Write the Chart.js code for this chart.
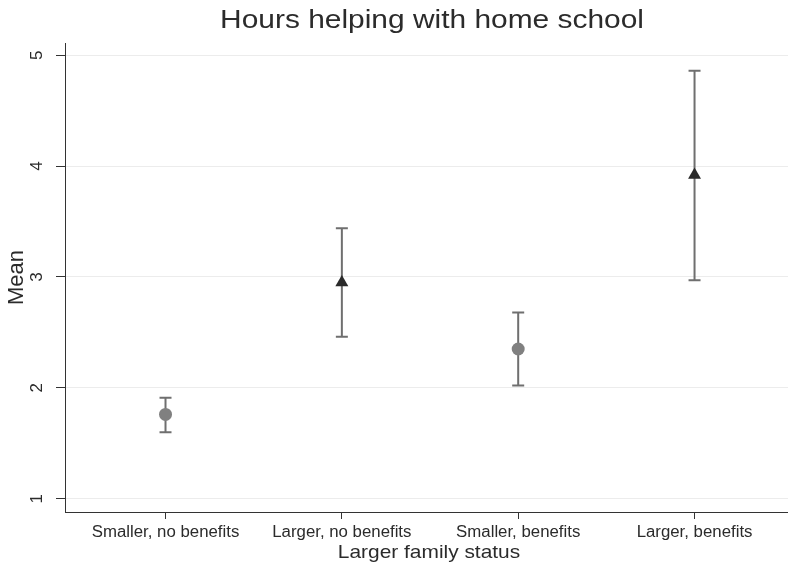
<!DOCTYPE html>
<html>
<head>
<meta charset="utf-8">
<title>Hours helping with home school</title>
<script src="https://cdn.jsdelivr.net/npm/chart.js@4/dist/chart.umd.min.js"></script>
<style>
  html, body { margin: 0; padding: 0; background: #fff; }
  #wrap { width: 788px; height: 564px; }
</style>
</head>
<body>
<div id="wrap"><canvas id="chart" width="788" height="564"></canvas></div>
<script>
// group means with their confidence intervals
const categories = ["Smaller, no benefits", "Larger, no benefits", "Smaller, benefits", "Larger, benefits"];
const means = [1.76, 2.95, 2.35, 3.92];
const lower = [1.60, 2.46, 2.02, 2.97];
const upper = [1.91, 3.44, 2.68, 4.86];
const largerFamily = [false, true, false, true];
const yTicks = [1, 2, 3, 4, 5];

const FONT = "'Liberation Sans', Arial, Helvetica, sans-serif";
const TEXT = "#2b2b2b";

// whiskers under the markers
const errorBars = {
  id: "errorBars",
  beforeDatasetsDraw(chart) {
    const { ctx, scales: { x, y } } = chart;
    ctx.save();
    ctx.strokeStyle = "#6f6f6f";
    ctx.lineWidth = 2;
    means.forEach((m, i) => {
      const px = x.getPixelForValue(i);
      const top = y.getPixelForValue(upper[i]);
      const bot = y.getPixelForValue(lower[i]);
      ctx.beginPath();
      ctx.moveTo(px, top); ctx.lineTo(px, bot);
      ctx.moveTo(px - 6, top); ctx.lineTo(px + 6, top);
      ctx.moveTo(px - 6, bot); ctx.lineTo(px + 6, bot);
      ctx.stroke();
    });
    ctx.restore();
  }
};

// text drawn slightly wide, like the Stata export
function wideText(ctx, str, x, y, sx) {
  ctx.save();
  ctx.translate(x, y);
  ctx.scale(sx, 1);
  ctx.fillText(str, 0, 0);
  ctx.restore();
}

// title, axis titles and tick labels
const labels = {
  id: "labels",
  afterDraw(chart) {
    const { ctx, chartArea, scales: { x, y } } = chart;
    ctx.save();
    ctx.fillStyle = TEXT;
    ctx.textAlign = "center";
    ctx.textBaseline = "alphabetic";

    ctx.font = "26px " + FONT;
    wideText(ctx, "Hours helping with home school", 432, 28, 1.15);

    ctx.font = "19px " + FONT;
    wideText(ctx, "Larger family status", 429, 558, 1.1);

    ctx.font = "16px " + FONT;
    categories.forEach((c, i) => {
      wideText(ctx, c, x.getPixelForValue(i), 537, 1.05);
    });

    ctx.textBaseline = "middle";
    ctx.save();
    ctx.translate(17, (chartArea.top + chartArea.bottom) / 2);
    ctx.rotate(-Math.PI / 2);
    ctx.font = "22px " + FONT;
    ctx.fillText("Mean", 0, 0);
    ctx.restore();

    ctx.font = "17px " + FONT;
    yTicks.forEach(v => {
      ctx.save();
      ctx.translate(37, y.getPixelForValue(v));
      ctx.rotate(-Math.PI / 2);
      ctx.fillText(String(v), 0, 0);
      ctx.restore();
    });
    ctx.restore();
  }
};

new Chart(document.getElementById("chart"), {
  type: "scatter",
  data: {
    datasets: [{
      data: means.map((m, i) => ({ x: i, y: m })),
      pointStyle: ctx => largerFamily[ctx.dataIndex] ? "triangle" : "circle",
      pointRadius: ctx => largerFamily[ctx.dataIndex] ? 7.5 : 6.5,
      pointHoverRadius: ctx => largerFamily[ctx.dataIndex] ? 7.5 : 6.5,
      backgroundColor: ctx => largerFamily[ctx.dataIndex] ? "#2a2a2a" : "#808080",
      borderColor: ctx => largerFamily[ctx.dataIndex] ? "#2a2a2a" : "#808080",
      borderWidth: 0
    }]
  },
  options: {
    responsive: false,
    animation: false,
    layout: { autoPadding: false, padding: { top: 43, right: 0, left: 0, bottom: 0 } },
    plugins: {
      legend: { display: false },
      tooltip: { enabled: false }
    },
    scales: {
      x: {
        type: "linear",
        min: -0.57,
        max: 3.53,
        afterBuildTicks: s => { s.ticks = categories.map((c, i) => ({ value: i })); },
        afterFit: s => { s.height = 52; s.paddingLeft = 0; s.paddingRight = 0; },
        ticks: { display: false },
        grid: { drawOnChartArea: false, drawTicks: true, tickLength: 7, tickColor: "#333", tickWidth: 1 },
        border: { display: true, color: "#333", width: 1 }
      },
      y: {
        min: 0.88,
        max: 5.11,
        afterBuildTicks: s => { s.ticks = yTicks.map(v => ({ value: v })); },
        afterFit: s => { s.width = 65; s.paddingTop = 0; s.paddingBottom = 0; },
        ticks: { display: false },
        grid: { color: "#ececec", lineWidth: 1, drawTicks: true, tickLength: 9, tickColor: "#333", tickWidth: 1 },
        border: { display: true, color: "#333", width: 1 }
      }
    }
  },
  plugins: [errorBars, labels]
});
</script>
</body>
</html>
